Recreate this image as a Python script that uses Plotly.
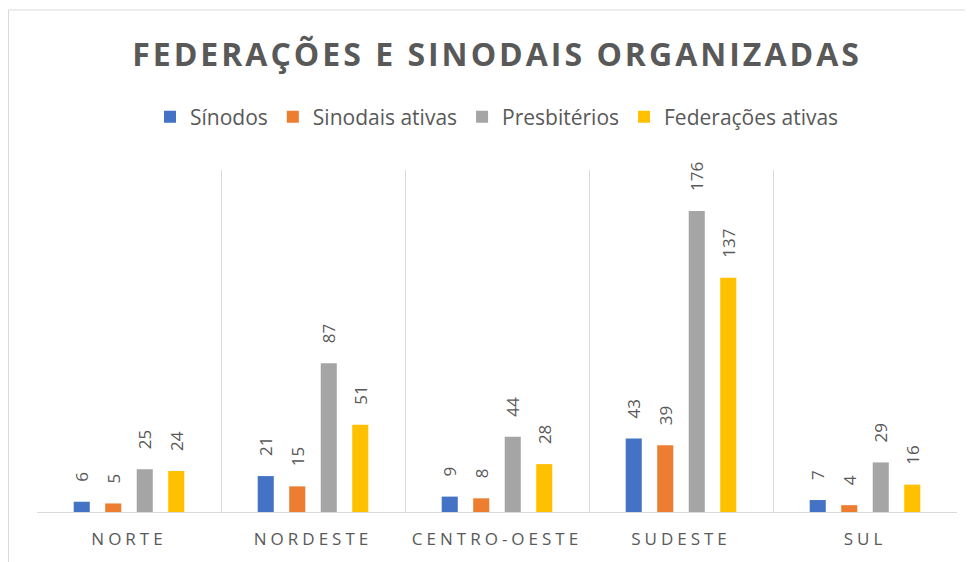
import plotly.graph_objects as go

############################################################
# DATA
############################################################

regioes = ["NORTE", "NORDESTE", "CENTRO-OESTE", "SUDESTE", "SUL"]

sinodos = [6, 21, 9, 43, 7]
sinodais_ativas = [5, 15, 8, 39, 4]
presbiterios = [25, 87, 44, 176, 29]
federacoes_ativas = [24, 51, 28, 137, 16]

series = [
    ("Sínodos", sinodos, "#4472C4"),
    ("Sinodais ativas", sinodais_ativas, "#ED7D31"),
    ("Presbitérios", presbiterios, "#A5A5A5"),
    ("Federações ativas", federacoes_ativas, "#FFC000"),
]

TEXT = "#595959"
GRID = "#D9D9D9"
FONT = "Open Sans"

# the page body adds an 8px margin, so the figure is a bit smaller
W, H = 965, 554
ML, MR, MT, MB = 29, 16, 162, 50
PW, PH = W - ML - MR, H - MT - MB

############################################################
# BARS
############################################################

fig = go.Figure()

for nome, valores, cor in series:

    fig.add_trace(

        go.Bar(

            x=regioes,

            y=valores,

            name=nome,

            marker=dict(color=cor, line=dict(width=0)),

            text=valores,

            texttemplate="\u2002\u2002%{text}",

            textposition="outside",

            textangle=-90,

            constraintext="none",

            cliponaxis=False,

            outsidetextfont=dict(family=FONT, size=17, color=TEXT),

            hoverinfo="x+y+name"

        )

    )

############################################################
# AXES
############################################################

fig.update_xaxes(

    type="category",

    tickmode="array",

    tickvals=regioes,

    ticktext=['<span style="letter-spacing:4px">' + r + '</span>' for r in regioes],

    tickson="boundaries",

    ticks="",

    ticklabelstandoff=12,

    showgrid=True,

    gridcolor=GRID,

    gridwidth=1,

    showline=True,

    linecolor=GRID,

    linewidth=1,

    tickfont=dict(family=FONT, size=17, color=TEXT),

    fixedrange=True

)

fig.update_yaxes(

    range=[0, 200],

    showgrid=False,

    zeroline=False,

    showticklabels=False,

    fixedrange=True

)

############################################################
# LAYOUT
############################################################

fig.update_layout(

    width=W,

    height=H,

    margin=dict(l=ML, r=MR, t=MT, b=MB),

    paper_bgcolor="white",

    plot_bgcolor="white",

    barmode="group",

    bargap=0.315,

    bargroupgap=0.49,

    font=dict(family=FONT, color=TEXT),

    title=dict(

        text='<span style="letter-spacing:3px">FEDERAÇÕES E SINODAIS ORGANIZADAS</span>',

        font=dict(family=FONT, size=32, color=TEXT, weight="bold"),

        x=0.5,

        xref="paper",

        xanchor="center",

        y=1 - 47 / H,

        yref="container",

        yanchor="middle"

    ),

    legend=dict(

        orientation="h",

        x=0.5,

        xanchor="center",

        y=(PH + MT - 109) / PH,

        yanchor="middle",

        font=dict(family=FONT, size=21, color=TEXT),

        itemwidth=30,

        traceorder="normal"

    ),

    shapes=[

        dict(

            type="rect",

            xref="paper",

            yref="paper",

            x0=(0.5 - ML) / PW,

            x1=1.2,

            y0=-0.4,

            y1=(PH + MT - 2) / PH,

            line=dict(color=GRID, width=1),

            fillcolor="rgba(0,0,0,0)",

            layer="below"

        )

    ]

)

fig.write_html("out.html")
